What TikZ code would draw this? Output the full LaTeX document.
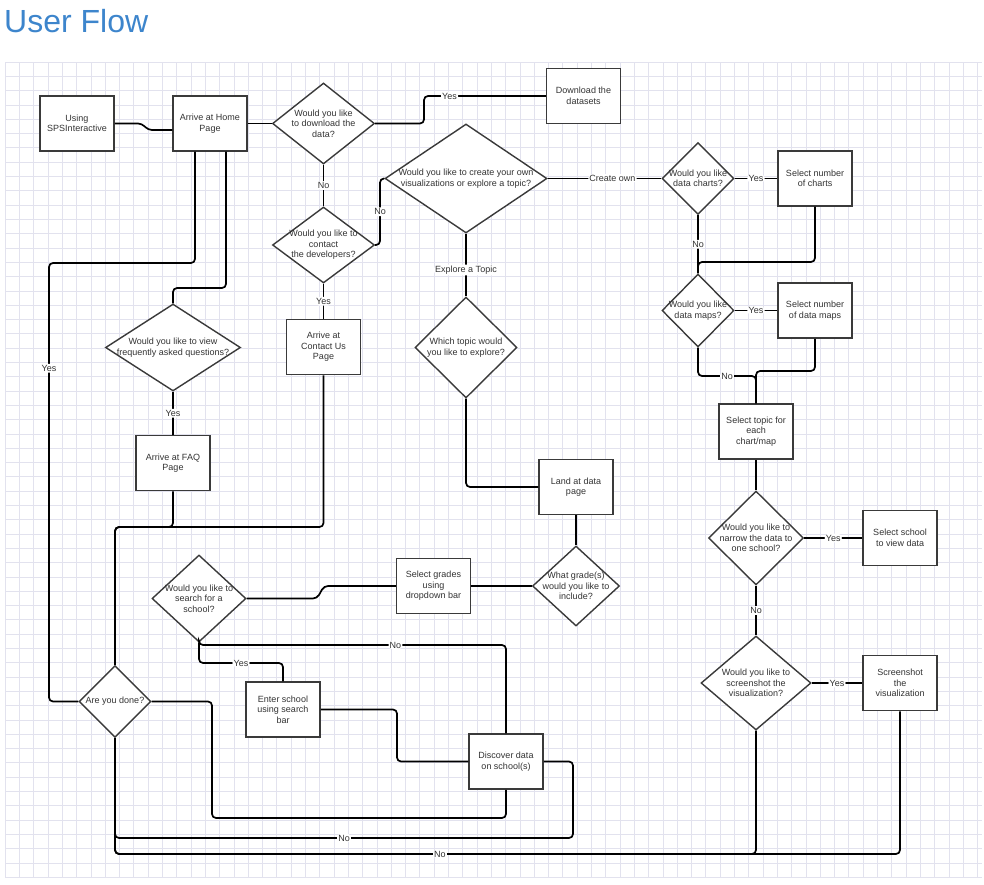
\documentclass[tikz,border=0pt]{standalone}
\usepackage{fontspec}
\setmainfont{Liberation Sans}
\usetikzlibrary{shapes.geometric}
\definecolor{titleblue}{HTML}{3D85CC}
\definecolor{gridc}{HTML}{E2E2EE}
\definecolor{txt}{HTML}{333333}
\definecolor{edgec}{HTML}{3A3A3A}
\tikzset{
  box/.style={draw=edgec, line width=1.5pt, fill=white, minimum width=74pt, minimum height=55pt,
    inner sep=1pt, align=center, text=txt, font=\fontsize{9}{10.5}\selectfont},
  dia/.style={diamond, draw=edgec, line width=1.4pt, fill=white, inner sep=0pt},
  dtxt/.style={align=center, text=txt, font=\fontsize{9}{10.5}\selectfont, inner sep=0pt},
  conn/.style={draw=black, line width=1.7pt, rounded corners=4pt},
  lbl/.style={fill=white, inner sep=1.2pt, text=txt, font=\fontsize{9}{10}\selectfont},
  gridline/.style={draw=gridc, line width=0.6pt},
}
\begin{document}
\begin{tikzpicture}[x=1pt,y=-1pt]
\useasboundingbox (0,0) rectangle (984,885);
% grid
\foreach \i in {0,...,68} \draw[gridline] ({5+\i*14.3},62) -- ({5+\i*14.3},877);
\foreach \j in {0,...,57} \draw[gridline] (5,{62+\j*14.3}) -- (982,{62+\j*14.3});
% title
\node[anchor=base west, inner sep=0pt, text=titleblue, font=\fontsize{32}{36}\selectfont] (title) at (4,33) {User Flow};

% boxes
\node[box] (using) at (77,123.5) {Using\\SPSInteractive};
\node[box] (home) at (210,123.5) {Arrive at Home\\Page};
\node[box] (download) at (583.5,96) {Download the\\datasets};
\node[box] (snc) at (815,178.5) {Select number\\of charts};
\node[box] (snm) at (815,310.5) {Select number\\of data maps};
\node[box] (topic) at (756,431.5) {Select topic for\\each\\chart/map};
\node[box] (ss) at (900,538) {Select school\\to view data};
\node[box] (shotbox) at (900,683) {Screenshot\\the\\visualization};
\node[box] (land) at (576,487) {Land at data\\page};
\node[box] (sg) at (433.5,586) {Select grades\\using\\dropdown bar};
\node[box] (enter) at (283,709.5) {Enter school\\using search\\bar};
\node[box] (disc) at (506,761.5) {Discover data\\on school(s)};
\node[box] (faqbox) at (173,463) {Arrive at FAQ\\Page};
\node[box] (cbox) at (323.5,347) {Arrive at\\Contact Us\\Page};

% diamonds
\node[dia, minimum width=102pt, minimum height=81pt, label={[dtxt]center:{Would you like\\to download the\\data?}}] (dl) at (323.5,123.5) {};
\node[dia, minimum width=102pt, minimum height=76pt, label={[dtxt]center:{Would you like to\\contact\\the developers?}}] (contact) at (323.5,245) {};
\node[dia, minimum width=162pt, minimum height=109pt, label={[dtxt]center:{Would you like to create your own\\visualizations or explore a topic?}}] (big) at (466,178.5) {};
\node[dia, minimum width=72pt, minimum height=72pt, label={[dtxt]center:{Would you like\\data charts?}}] (charts) at (698,178.5) {};
\node[dia, minimum width=72pt, minimum height=73pt, label={[dtxt]center:{Would you like\\data maps?}}] (maps) at (698,310.5) {};
\node[dia, minimum width=95pt, minimum height=94pt, label={[dtxt]center:{Would you like to\\narrow the data to\\one school?}}] (narrow) at (756,538) {};
\node[dia, minimum width=110pt, minimum height=94pt, label={[dtxt]center:{Would you like to\\screenshot the\\visualization?}}] (shot) at (756,683) {};
\node[dia, minimum width=102pt, minimum height=101pt, label={[dtxt]center:{Which topic would\\you like to explore?}}] (which) at (466,347.5) {};
\node[dia, minimum width=87pt, minimum height=80pt, label={[dtxt]center:{What grade(s)\\would you like to\\include?}}] (grade) at (576,586) {};
\node[dia, minimum width=94pt, minimum height=87pt, label={[dtxt]center:{Would you like to\\search for a\\school?}}] (search) at (199,598.5) {};
\node[dia, minimum width=72pt, minimum height=72pt, label={[dtxt]center:{Are you done?}}] (done) at (115,701.5) {};
\node[dia, minimum width=135pt, minimum height=87pt, label={[dtxt]center:{Would you like to view\\frequently asked questions?}}] (faq) at (173,347.5) {};

% connectors
\draw[conn] (using.east) -- (142,123.5) -- (148,130) -- ([yshift=-6.5pt]home.west);
\draw[conn] (home.east) -- (dl.west);
\draw[conn] (dl.east) -- (424,123.5) -- (424,96) -- node[lbl,pos=0.21]{Yes} (download.west);
\draw[conn] (dl.south) -- node[lbl]{No} (contact.north);
\draw[conn] (contact.east) -- (380,245) -- node[lbl]{No} (380,178.5) -- (big.west);
\draw[conn] (big.east) -- node[lbl,pos=0.57]{Create own} (charts.west);
\draw[conn] (charts.east) -- node[lbl]{Yes} (snc.west);
\draw[conn] (charts.south) -- node[lbl]{No} (maps.north);
\draw[conn] (snc.south) -- (815,262) -- (698,262) -- (maps.north);
\draw[conn] (maps.east) -- node[lbl]{Yes} (snm.west);
\draw[conn] (maps.south) -- (698,376) -- node[lbl]{No} (756,376) -- (topic.north);
\draw[conn] (snm.south) -- (815,371) -- (756,371) -- (topic.north);
\draw[conn] (topic.south) -- (narrow.north);
\draw[conn] (narrow.east) -- node[lbl]{Yes} (ss.west);
\draw[conn] (narrow.south) -- node[lbl]{No} (shot.north);
\draw[conn] (shot.east) -- node[lbl]{Yes} (shotbox.west);
\draw[conn] (shot.south) -- (756,854) -- (115,854) -- (done.south);
\draw[conn] (shotbox.south) -- (900,854) -- node[lbl,pos=0.586]{No} (115,854) -- (done.south);
\draw[conn] (big.south) -- node[lbl,pos=0.58]{Explore a Topic} (which.north);
\draw[conn] (which.south) -- (466,487) -- (land.west);
\draw[conn] (land.south) -- (grade.north);
\draw[conn] (grade.west) -- (sg.east);
\draw[conn] (sg.west) -- (324,586) -- (317,598.5) -- (search.east);
\draw[conn] (search.south) -- (199,645) -- node[lbl,pos=0.64]{No} (506,645) -- (disc.north);
\draw[conn] (search.south) -- (199,663) -- node[lbl]{Yes} (283,663) -- (enter.north);
\draw[conn] (enter.east) -- (397,709.5) -- (397,761.5) -- (disc.west);
\draw[conn] (disc.south) -- (506,818) -- (212,818) -- (212,701.5) -- (done.east);
\draw[conn] (disc.east) -- (573,761.5) -- (573,838) -- node[lbl,pos=0.5]{No} (115,838) -- (done.south);
\draw[conn] (done.west) -- (49,701.5) -- node[lbl,pos=0.76]{Yes} (49,263) -- (195,263) -- ([xshift=-15pt]home.south);
\draw[conn] ([xshift=16pt]home.south) -- (226,288) -- (173,288) -- (faq.north);
\draw[conn] (faq.south) -- node[lbl]{Yes} (faqbox.north);
\draw[conn] (faqbox.south) -- (173,527) -- (115,527) -- (done.north);
\draw[conn] (cbox.south) -- (323.5,527) -- (115,527) -- (done.north);
\draw[conn] (contact.south) -- node[lbl]{Yes} (cbox.north);
\end{tikzpicture}
\end{document}
